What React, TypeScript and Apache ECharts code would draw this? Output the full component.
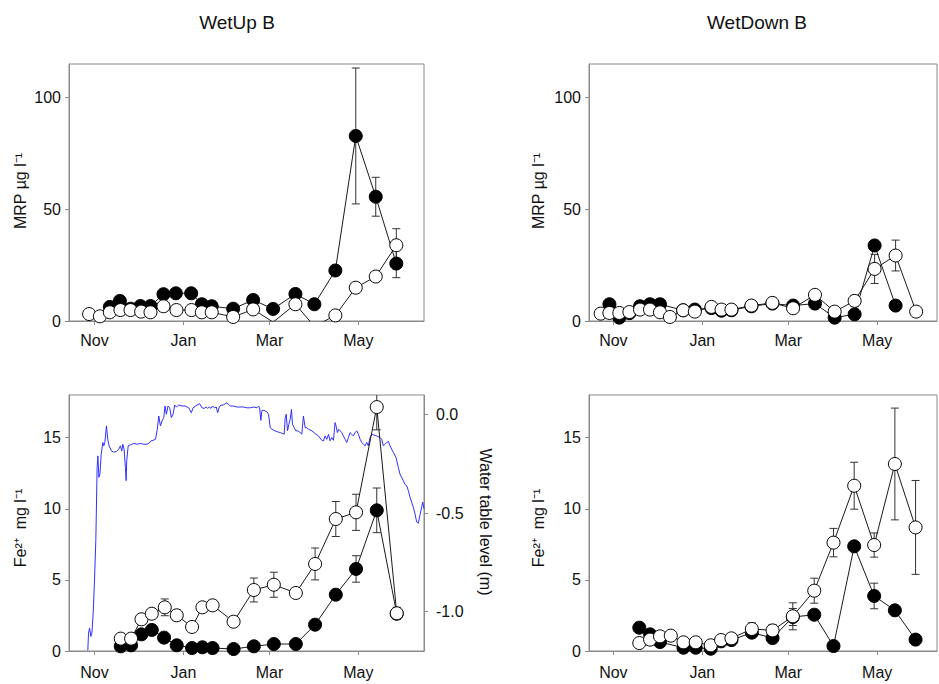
import React, { useEffect, useRef } from 'react';
import * as echarts from 'echarts';

const FONT = '"Liberation Sans", Arial, Helvetica, sans-serif';
const FRAME = '#8a8a8a';

// days counted from 1 November
const monthTicks = [0, 61, 120, 181];
const monthLabels = ['Nov', 'Jan', 'Mar', 'May'];
const mrpTicks = [0, 50, 100];
const feTicks = [0, 5, 10, 15];
const levelTicks = [-1, -0.5, 0];

// WetUp B, MRP (µg/l)
const mrpUpFilled = [[10.5, 6.3], [17.4, 9.0], [24.7, 5.5], [31.5, 6.7], [38.4, 6.7], [47.3, 12.0], [55.8, 12.4], [66.3, 12.4], [73.6, 7.5], [80.4, 6.6], [95.1, 5.5], [108.8, 9.4], [122.5, 5.4], [137.8, 12.1], [150.8, 7.5], [165.2, 22.6], [179.2, 82.8], [192.9, 55.6], [207.0, 25.7]];
const mrpUpOpen = [[-3.7, 3.1], [3.7, 2.1], [10.5, 3.9], [17.8, 4.9], [24.7, 4.9], [32.0, 4.2], [38.4, 3.9], [47.3, 6.6], [56.2, 4.9], [66.5, 4.9], [73.6, 3.9], [80.4, 3.9], [95.1, 1.8], [108.8, 5.2], [122.5, -0.5], [137.8, 7.5], [150.8, -2.4], [165.2, 2.5], [179.2, 14.9], [192.9, 19.9], [207.0, 33.9]];
const mrpUpFilledErr = [[179.2, 82.8, 30.4], [192.9, 55.6, 8.7], [207.0, 25.7, 6.3]];
const mrpUpOpenErr = [[207.0, 33.9, 7.4]];

// WetDown B, MRP (µg/l)
const mrpDownFilled = [[-2.7, 7.5], [4.1, 1.5], [11.0, 3.5], [18.3, 6.6], [25.1, 7.5], [32.0, 7.5], [47.9, 4.8], [55.9, 5.1], [67.3, 5.8], [74.2, 4.6], [81.0, 4.8], [94.7, 6.6], [109.1, 7.8], [123.3, 6.9], [138.3, 7.8], [151.8, 1.5], [165.5, 3.0], [179.2, 33.8], [193.6, 6.9]];
const mrpDownOpen = [[-8.7, 3.3], [-2.7, 3.6], [4.1, 3.6], [11.0, 4.0], [18.3, 5.1], [25.1, 5.1], [32.0, 3.9], [38.8, 1.8], [47.9, 4.8], [55.9, 4.2], [67.3, 6.3], [74.2, 5.1], [81.0, 5.1], [94.7, 6.9], [109.1, 8.1], [123.3, 5.7], [138.3, 11.7], [151.8, 4.2], [165.5, 9.0], [179.2, 23.3], [193.6, 29.3], [207.7, 4.2]];
const mrpDownFilledErr: number[][] = [];
const mrpDownOpenErr = [[165.5, 9.0, 2.5], [179.2, 23.3, 6.5], [193.6, 29.3, 6.9]];

// WetUp B, Fe2+ (mg/l)
const feUpFilled = [[18.0, 0.33], [25.1, 0.40], [32.2, 1.17], [39.3, 1.48], [47.7, 0.94], [56.4, 0.40], [66.9, 0.21], [74.0, 0.26], [81.0, 0.21], [95.4, 0.14], [109.3, 0.33], [123.0, 0.49], [138.1, 0.49], [151.3, 1.85], [165.5, 3.96], [179.4, 5.77], [193.6, 9.89], [207.3, 2.62]];
const feUpOpen = [[18.0, 0.87], [25.1, 0.87], [32.2, 2.23], [39.3, 2.62], [48.2, 3.07], [56.4, 2.51], [66.9, 1.69], [74.0, 3.07], [81.0, 3.21], [95.4, 2.06], [109.3, 4.29], [123.0, 4.66], [138.1, 4.08], [151.3, 6.12], [165.5, 9.28], [179.4, 9.75], [193.6, 17.15], [207.3, 2.65]];
const feUpFilledErr = [[47.7, 0.94, 0.3], [179.4, 5.77, 0.93], [193.6, 9.89, 1.57]];
const feUpOpenErr = [[48.2, 3.07, 0.59], [56.4, 2.51, 0.37], [109.3, 4.29, 0.84], [123.0, 4.66, 0.88], [138.1, 4.08, 0.25], [151.3, 6.12, 1.12], [165.5, 9.28, 1.23], [179.4, 9.75, 1.27], [193.6, 17.15, 1.6], [207.3, 2.65, 0.42]];

// WetDown B, Fe2+ (mg/l)
const feDownFilled = [[17.8, 1.64], [25.2, 1.17], [32.0, 0.63], [48.1, 0.23], [56.5, 0.23], [66.8, 0.16], [73.9, 0.68], [81.0, 0.77], [95.0, 1.29], [109.2, 0.91], [123.1, 2.39], [137.8, 2.55], [151.0, 0.35], [165.2, 7.36], [178.9, 3.87], [193.1, 2.86], [207.3, 0.80]];
const feDownOpen = [[17.8, 0.56], [25.2, 0.80], [32.0, 1.03], [39.4, 1.08], [48.1, 0.61], [56.5, 0.61], [66.8, 0.40], [73.9, 0.77], [81.0, 0.89], [95.0, 1.55], [109.2, 1.45], [123.1, 2.44], [137.8, 4.24], [151.0, 7.62], [165.2, 11.62], [178.9, 7.45], [193.1, 13.15], [207.3, 8.69]];
const feDownFilledErr = [[123.1, 2.39, 0.6], [178.9, 3.87, 0.9]];
const feDownOpenErr = [[95.0, 1.55, 0.42], [109.2, 1.45, 0.4], [123.1, 2.44, 0.95], [137.8, 4.24, 0.88], [151.0, 7.62, 1.0], [165.2, 11.62, 1.65], [178.9, 7.45, 0.85], [193.1, 13.15, 3.93], [207.3, 8.69, 3.3]];

// WetUp B water table level (m), [day, level]
const waterLevel = [[-4.6, -1.197], [-4.1, -1.109], [-3.4, -1.084], [-2.5, -1.126], [-1.8, -1.109], [-0.9, -1.008], [0, -0.84], [0.9, -0.638], [1.8, -0.268], [2.3, -0.209], [3.0, -0.318], [3.7, -0.301], [4.6, -0.2], [5.7, -0.141], [6.4, -0.158], [7.1, -0.141], [8.2, -0.057], [9.1, -0.125], [10.0, -0.158], [11.6, -0.184], [13.2, -0.19], [15.1, -0.187], [16.7, -0.175], [17.8, -0.158], [18.7, -0.184], [19.4, -0.15], [20.3, -0.175], [21.2, -0.268], [21.7, -0.335], [22.1, -0.234], [23.1, -0.158], [24.7, -0.153], [26.9, -0.146], [29.2, -0.15], [31.5, -0.146], [33.8, -0.15], [36.1, -0.15], [37.9, -0.141], [38.8, -0.133], [40.2, -0.13], [41.8, -0.125], [42.9, -0.082], [44.1, -0.007], [45.2, -0.057], [46.3, -0.032], [47.5, -0.015], [48.4, 0.044], [49.3, 0.002], [50.4, 0.044], [51.6, 0.035], [52.7, -0.015], [53.9, 0.002], [55.0, 0.049], [56.2, 0.039], [57.7, 0.049], [60.0, 0.044], [62.3, 0.044], [64.6, 0.035], [66.4, 0.01], [67.6, 0.035], [70.3, 0.049], [72.1, 0.056], [73.7, 0.035], [75.3, 0.032], [76.5, 0.039], [77.6, 0.032], [78.7, 0.039], [79.9, 0.032], [81.0, 0.044], [82.2, 0.035], [83.5, 0.039], [84.5, 0.01], [85.6, 0.039], [86.7, 0.049], [88.6, 0.049], [90.2, 0.061], [92.0, 0.052], [93.1, 0.044], [95.4, 0.044], [97.7, 0.039], [100.0, 0.039], [102.3, 0.039], [104.5, 0.035], [106.8, 0.035], [109.1, 0.039], [111.4, 0.035], [112.5, 0.044], [113.2, 0.035], [114.1, -0.029], [114.8, 0.022], [116.0, 0.022], [118.2, 0.015], [119.4, 0.002], [120.5, -0.066], [121.7, -0.074], [122.8, -0.079], [125.1, -0.086], [127.4, -0.091], [129.2, -0.096], [130.1, -0.099], [130.8, -0.015], [131.5, 0.002], [132.4, -0.082], [133.3, -0.049], [134.2, -0.024], [135.1, 0.027], [135.8, -0.049], [137.0, -0.066], [138.1, -0.082], [139.5, -0.082], [141.1, -0.091], [142.2, -0.099], [143.3, -0.007], [144.5, -0.066], [145.6, -0.066], [146.8, -0.074], [149.1, -0.082], [151.3, -0.096], [153.6, -0.108], [155.9, -0.13], [157.0, -0.133], [158.2, -0.108], [159.3, -0.125], [160.5, -0.099], [161.6, -0.133], [162.7, -0.116], [163.9, -0.13], [165.0, -0.04], [165.7, -0.057], [166.6, -0.091], [167.5, -0.074], [168.5, -0.082], [169.6, -0.091], [170.7, -0.108], [171.9, -0.125], [173.0, -0.141], [174.2, -0.116], [175.3, -0.091], [176.4, -0.099], [177.6, -0.108], [178.7, -0.091], [179.9, -0.082], [181.0, -0.099], [182.2, -0.125], [183.3, -0.141], [184.4, -0.15], [185.6, -0.158], [186.7, -0.141], [187.8, -0.158], [189.0, -0.116], [190.1, -0.099], [191.3, -0.103], [193.6, -0.108], [195.8, -0.116], [197.0, -0.125], [198.1, -0.158], [199.3, -0.15], [200.4, -0.141], [201.6, -0.136], [202.7, -0.158], [203.8, -0.175], [205.0, -0.192], [206.8, -0.217], [208.4, -0.268], [209.5, -0.301], [211.8, -0.335], [213.0, -0.355], [214.1, -0.36], [215.3, -0.386], [216.4, -0.419], [218.7, -0.47], [219.8, -0.503], [221.0, -0.545], [222.1, -0.551], [223.2, -0.512], [224.4, -0.47], [225.1, -0.444], [226.0, -0.478]];

const axisLineStyle = { color: FRAME, width: 1 };
const labelStyle = { fontSize: 16, color: '#111', fontFamily: FONT };

function xAxis(gridIndex: number, min: number, max: number, margin: number) {
  return {
    type: 'value', gridIndex, min, max, position: 'bottom',
    axisLine: { show: true, onZero: false, lineStyle: axisLineStyle },
    axisTick: { show: true, customValues: monthTicks, length: 4, lineStyle: axisLineStyle },
    axisLabel: {
      ...labelStyle, margin, customValues: monthTicks,
      formatter: (v: number) => monthLabels[monthTicks.indexOf(Math.round(v))] ?? '',
    },
    splitLine: { show: false },
  };
}

function yAxis(gridIndex: number, min: number, max: number, ticks: number[], position: string, fmt?: (v: number) => string) {
  return {
    type: 'value', gridIndex, min, max, position,
    axisLine: { show: true, onZero: false, lineStyle: axisLineStyle },
    axisTick: { show: true, customValues: ticks, length: 4, lineStyle: axisLineStyle },
    axisLabel: { ...labelStyle, margin: position === 'right' ? 12 : 8, customValues: ticks, formatter: fmt ?? ((v: number) => String(v)) },
    splitLine: { show: false },
  };
}

function lineSeries(xi: number, yi: number, data: number[][], filled: boolean) {
  return {
    type: 'line', xAxisIndex: xi, yAxisIndex: yi, data,
    symbol: 'circle', symbolSize: 13, showSymbol: true, clip: true, silent: true,
    z: filled ? 3 : 4,
    itemStyle: { color: filled ? '#000' : '#fff', borderColor: '#000', borderWidth: 1, opacity: 1 },
    lineStyle: { color: '#1a1a1a', width: 1 },
    emphasis: { disabled: true },
  };
}

function errSeries(xi: number, yi: number, data: number[][]) {
  return {
    type: 'custom', xAxisIndex: xi, yAxisIndex: yi, clip: true, silent: true, z: 2,
    data: data.map(([x, m, e]) => [x, m - e, m + e]),
    encode: { x: 0, y: [1, 2] },
    renderItem: (_params: any, api: any) => {
      const x = api.value(0);
      const lo = api.coord([x, api.value(1)]);
      const hi = api.coord([x, api.value(2)]);
      const hw = 4;
      const st = { stroke: '#333', lineWidth: 1 };
      return {
        type: 'group',
        children: [
          { type: 'line', shape: { x1: hi[0], y1: hi[1], x2: lo[0], y2: lo[1] }, style: st },
          { type: 'line', shape: { x1: hi[0] - hw, y1: hi[1], x2: hi[0] + hw, y2: hi[1] }, style: st },
          { type: 'line', shape: { x1: lo[0] - hw, y1: lo[1], x2: lo[0] + hw, y2: lo[1] }, style: st },
        ],
      };
    },
  };
}

function txt(x: number, y: number, text: string, size: number, rotation = 0) {
  return {
    type: 'text', x, y, rotation, silent: true,
    style: { text, fontSize: size, fontFamily: FONT, fill: '#111', align: 'center', verticalAlign: 'middle' },
  };
}

const gridBase = { show: true, borderColor: FRAME, borderWidth: 1, backgroundColor: 'transparent', containLabel: false };

const option = {
  animation: false,
  grid: [
    { ...gridBase, left: 69, top: 64, width: 355, height: 257 },
    { ...gridBase, left: 589, top: 64, width: 348, height: 257 },
    { ...gridBase, left: 69, top: 395, width: 355, height: 256 },
    { ...gridBase, left: 589, top: 395, width: 348, height: 256 },
  ],
  xAxis: [
    xAxis(0, -17.5, 226, 11),
    xAxis(1, -16.7, 222, 11),
    xAxis(2, -17.5, 226, 13),
    xAxis(3, -16.7, 222, 13),
  ],
  yAxis: [
    yAxis(0, 0, 115, mrpTicks, 'left'),
    yAxis(1, 0, 115, mrpTicks, 'left'),
    yAxis(2, 0, 18, feTicks, 'left'),
    yAxis(3, 0, 18, feTicks, 'left'),
    yAxis(2, -1.2, 0.1, levelTicks, 'right', (v: number) => v.toFixed(1)),
  ],
  series: [
    {
      type: 'line', xAxisIndex: 2, yAxisIndex: 4, data: waterLevel, showSymbol: false, symbol: 'none',
      clip: true, silent: true, z: 1, lineStyle: { color: '#3030ff', width: 1 }, emphasis: { disabled: true },
    },
    errSeries(0, 0, mrpUpFilledErr), errSeries(0, 0, mrpUpOpenErr),
    lineSeries(0, 0, mrpUpFilled, true), lineSeries(0, 0, mrpUpOpen, false),
    errSeries(1, 1, mrpDownFilledErr), errSeries(1, 1, mrpDownOpenErr),
    lineSeries(1, 1, mrpDownFilled, true), lineSeries(1, 1, mrpDownOpen, false),
    errSeries(2, 2, feUpFilledErr), errSeries(2, 2, feUpOpenErr),
    lineSeries(2, 2, feUpFilled, true), lineSeries(2, 2, feUpOpen, false),
    errSeries(3, 3, feDownFilledErr), errSeries(3, 3, feDownOpenErr),
    lineSeries(3, 3, feDownFilled, true), lineSeries(3, 3, feDownOpen, false),
  ],
  graphic: [
    txt(237, 22, 'WetUp B', 19),
    txt(757, 22, 'WetDown B', 19),
    txt(20, 191, 'MRP µg l⁻¹', 16, Math.PI / 2),
    txt(538, 191, 'MRP µg l⁻¹', 16, Math.PI / 2),
    txt(20, 528, 'Fe²⁺  mg l⁻¹', 16, Math.PI / 2),
    txt(538, 528, 'Fe²⁺  mg l⁻¹', 16, Math.PI / 2),
    txt(485, 522, 'Water table level (m)', 16, -Math.PI / 2),
  ],
};

export default function App() {
  const ref = useRef<HTMLDivElement>(null);
  useEffect(() => {
    if (!ref.current) return;
    const chart = echarts.init(ref.current, null, { renderer: 'svg' });
    chart.setOption(option as any);
    return () => chart.dispose();
  }, []);
  return (
    <div
      ref={ref}
      style={{ position: 'absolute', left: 0, top: 0, width: 939, height: 684, background: '#fff' }}
    />
  );
}
